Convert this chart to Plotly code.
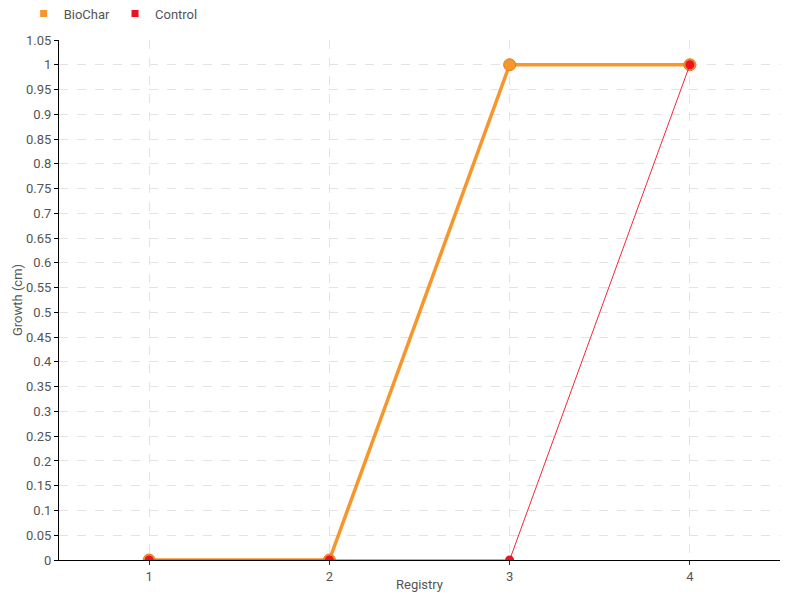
import plotly.graph_objects as go

registry = [1, 2, 3, 4]
biochar = [0, 0, 1, 1]
control = [0, 0, 0, 1]

FONT = "Roboto, Liberation Sans, sans-serif"
ORANGE = "#f7962a"
RED = "#ee1123"

fig = go.Figure()
fig.add_trace(go.Scatter(
    x=registry, y=biochar, mode="lines+markers", name="BioChar", showlegend=False,
    line=dict(color=ORANGE, width=3.5),
    marker=dict(color=ORANGE, size=12, line=dict(color="#e07d1c", width=1)),
))
fig.add_trace(go.Scatter(
    x=registry, y=control, mode="lines+markers", name="Control", showlegend=False,
    line=dict(color="#f0283c", width=1),
    marker=dict(color=RED, size=9, line=dict(width=0)),
))
# legend entries with square swatches
for name, col in [("BioChar", ORANGE), ("Control", RED)]:
    fig.add_trace(go.Scatter(
        x=[None], y=[None], mode="markers", name=name,
        marker=dict(color=col, symbol="square", size=7),
    ))

# page body adds an 8px offset, so the figure is sized to fit the window
fig.update_layout(
    width=784, height=584,
    plot_bgcolor="white", paper_bgcolor="white",
    margin=dict(l=51, r=12, t=32, b=32, autoexpand=False),
    font=dict(family=FONT, size=13, color="#555555"),
    showlegend=True,
    legend=dict(orientation="h", x=-0.049, xanchor="left", y=1.051, yanchor="middle",
                font=dict(size=13, color="#555555"), itemwidth=30,
                tracegroupgap=0, bgcolor="rgba(0,0,0,0)"),
)
fig.update_xaxes(
    range=[0.5, 4.5], tickvals=registry, ticktext=[str(v) for v in registry],
    showgrid=True, gridcolor="#e3e3e3", griddash="dash", gridwidth=1,
    showline=True, linecolor="black", linewidth=1,
    ticks="outside", ticklen=4, tickcolor="#333333",
    zeroline=False,
    title=dict(text="Registry", standoff=0, font=dict(size=13)),
)
fig.update_yaxes(
    range=[0, 1.05], dtick=0.05, tick0=0,
    showgrid=True, gridcolor="#e3e3e3", griddash="dash", gridwidth=1,
    showline=True, linecolor="black", linewidth=1,
    ticks="outside", ticklen=4, tickcolor="black",
    zeroline=False,
    title=dict(text="Growth (cm)", standoff=0, font=dict(size=13)),
)

fig.write_html("out.html")
